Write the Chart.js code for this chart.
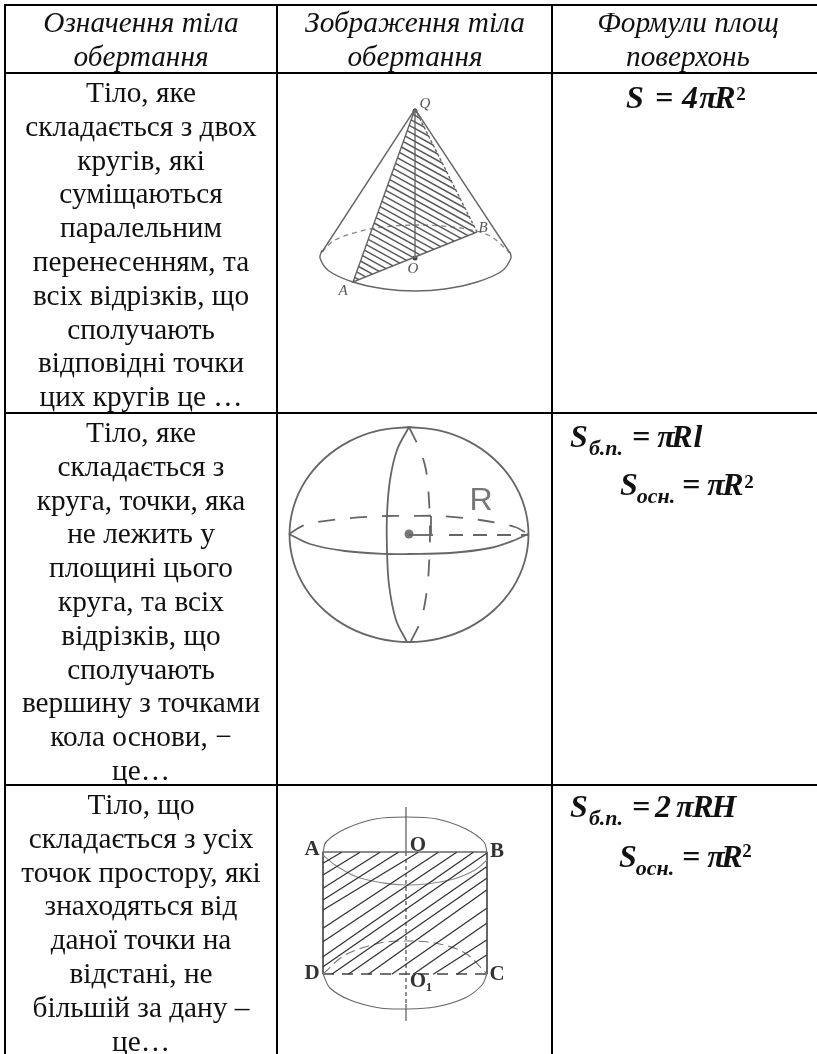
<!DOCTYPE html>
<html lang="uk">
<head>
<meta charset="utf-8">
<title>Тіла обертання</title>
<script src="https://cdn.jsdelivr.net/npm/chart.js@4"></script>
<style>
  html, body { margin: 0; padding: 0; background: #fff; overflow: hidden; }
  canvas { display: block; }
</style>
</head>
<body>
<canvas id="myTable" width="817" height="1054"></canvas>
<script>
    // Текст таблиці
    var headCol1 = ["Означення тіла", "обертання"];
    var headCol2 = ["Зображення тіла", "обертання"];
    var headCol3 = ["Формули площ", "поверхонь"];
    var row1Text = ["Тіло, яке", "складається з двох", "кругів, які", "суміщаються", "паралельним",
      "перенесенням, та", "всіх відрізків, що", "сполучають", "відповідні точки", "цих кругів це …"];
    var row2Text = ["Тіло, яке", "складається з", "круга, точки, яка", "не лежить у", "площині цього",
      "круга, та всіх", "відрізків, що", "сполучають", "вершину з точками", "кола основи, −", "це…"];
    var row3Text = ["Тіло, що", "складається з усіх", "точок простору, які", "знаходяться від",
      "даної точки на", "відстані, не", "більшій за дану –", "це…"];

    // Сітка таблиці
    var gridLines = [[5, 5, 817, 5], [5, 73, 817, 73], [5, 413, 817, 413], [5, 785, 817, 785],
      [5, 4, 5, 1054], [277, 5, 277, 1054], [552, 5, 552, 1054]];

    // Конус
    var coneSides = [[322, 252], [415, 109], [510, 253]];
    var coneFront = [[322, 250], [320, 258], [329, 271], [353, 282], [385, 289], [415, 291], [445, 289], [477, 282], [502, 271], [511, 258], [510, 252]];
    var coneBack = [[322, 252], [335, 240], [370, 229], [415, 225], [460, 228], [490, 236], [510, 253]];
    var coneSection = [[477, 232], [353, 282], [415, 109]];
    var coneSectionDash = [[415, 109], [477, 232]];
    var coneAxis = [[415, 109], [415, 258]];
    var coneDots = [[415, 111], [415, 258]];
    var coneHatch = [
      [413.1, 114.4, 419.5, 118], [411.1, 119.9, 424.1, 127], [409.2, 125.3, 428.6, 136], [407.2, 130.7, 433.1, 145],
      [405.3, 136.1, 437.7, 154], [403.3, 141.6, 442.2, 163], [401.4, 147, 446.7, 172], [399.4, 152.4, 451.2, 181],
      [397.5, 157.9, 455.8, 190], [395.5, 163.3, 460.3, 199], [393.6, 168.7, 464.8, 208], [391.6, 174.2, 469.4, 217],
      [389.7, 179.6, 473.9, 226], [387.8, 185, 474.8, 232.9], [385.8, 190.4, 468, 235.6], [383.9, 195.9, 461.2, 238.4],
      [381.9, 201.3, 454.3, 241.1], [380, 206.7, 447.5, 243.9], [378, 212.2, 440.7, 246.6], [376.1, 217.6, 433.9, 249.4],
      [374.1, 223, 427.1, 252.1], [372.2, 228.4, 420.2, 254.9], [370.2, 233.9, 413.4, 257.6], [368.3, 239.3, 406.6, 260.4],
      [366.3, 244.7, 399.8, 263.1], [364.4, 250.2, 393, 265.9], [362.5, 255.6, 386.1, 268.6], [360.5, 261, 379.3, 271.4],
      [358.6, 266.5, 372.5, 274.1], [356.6, 271.9, 365.7, 276.9], [354.7, 277.3, 358.9, 279.6]];

    // Куля
    var sphereOutline = [[409, 427], [439.9, 430.7], [468.75, 441.4], [493.5, 458.5], [512.5, 480.75], [524.4, 506.7],
      [528.5, 534.5], [524.4, 562.3], [512.5, 588.25], [493.5, 610.5], [468.75, 627.6], [439.9, 638.3], [409, 642],
      [378.1, 638.3], [349.25, 627.6], [324.5, 610.5], [305.5, 588.25], [293.6, 562.3], [289.5, 534.5], [293.6, 506.7],
      [305.5, 480.75], [324.5, 458.5], [349.25, 441.4], [378.1, 430.7], [409, 427]];
    var sphereMeridian = [[409, 427], [397, 450], [390, 480], [387, 515], [387, 550], [389, 585], [396, 620], [407, 642]];
    var sphereMeridianBack = [[409, 427], [420, 450], [426, 470], [429, 500], [430, 534], [429, 565], [427, 590], [421, 620], [411, 641]];
    var sphereEquator = [[289, 534], [310, 544], [345, 551], [387, 554], [409, 554], [450, 553], [490, 548], [515, 540], [528, 534]];
    var sphereEquatorBack = [[289, 534], [305, 525], [340, 519], [387, 516], [409, 516], [440, 516], [480, 520], [515, 527], [528, 534]];
    var sphereRadius = [[409, 535], [433, 535]];
    var sphereRadiusDash = [[449, 535], [528, 535]];
    var sphereTick = [[431, 516], [431, 534]];
    var sphereDot = [[409, 534]];

    // Циліндр
    var cylTop = [[323, 852], [326, 842], [345, 829], [375, 819], [406, 817], [437, 819], [466, 829], [484, 842], [487, 852]];
    var cylTopFront = [[323, 855], [335, 865], [360, 878], [406, 885], [450, 880], [475, 870], [487, 860]];
    var cylBottom = [[323, 974], [330, 988], [350, 1000], [380, 1008], [406, 1009], [435, 1007], [465, 998], [482, 985], [487, 974]];
    var cylBottomBack = [[323, 974], [345, 955], [380, 943], [406, 941], [435, 943], [465, 953], [487, 974]];
    var cylSides = [[323, 852], [323, 974], null, [487, 852], [487, 974]];
    var cylChord = [[323, 852], [487, 852]];
    var cylChordDash = [[323, 974], [487, 974]];
    var cylAxisSolid = [[406, 807], [406, 852], null, [406, 1004], [406, 1021]];
    var cylAxisDash = [[406, 852], [406, 1004]];
    var cylHatch = [
      [323, 863.3, 341.7, 852.3], [323, 875, 360, 852.3], [323, 888.3, 380, 852.3], [323, 900, 398.3, 852.3],
      [323, 910, 418.3, 852.3], [323, 928.3, 438.3, 852.3], [323, 941.7, 456.7, 852.3], [323, 956.7, 473.3, 852.3],
      [323, 966.7, 486.7, 853.3], [331.7, 974.3, 486.7, 866.7], [348.3, 974.3, 486.7, 878.3], [368.3, 974.3, 486.7, 890],
      [391.7, 974.3, 486.7, 908.3], [413.3, 974.3, 486.7, 923.3], [433.3, 974.3, 486.7, 940], [456.7, 974.3, 486.7, 955]];

    // Перетворення у точки Chart.js
    function toPoints(list) {
      return list.map(function (p) {
        return p ? { x: p[0], y: p[1] } : { x: NaN, y: NaN };
      });
    }
    function segments(list) {
      var out = [];
      list.forEach(function (s) {
        out.push({ x: s[0], y: s[1] }, { x: s[2], y: s[3] }, { x: NaN, y: NaN });
      });
      return out;
    }
    function line(points, color, width, dash, tension) {
      return {
        data: points,
        showLine: true,
        borderColor: color,
        borderWidth: width,
        borderDash: dash || [],
        tension: tension || 0,
        pointRadius: 0,
        fill: false
      };
    }
    function dots(points, color, radius) {
      return {
        data: points,
        showLine: false,
        pointRadius: radius,
        pointBackgroundColor: color,
        pointBorderWidth: 0
      };
    }

    var gray = '#666666';
    var curve = 0.33;
    var datasets = [
      line(segments(gridLines), '#000000', 2),
      line(segments(coneHatch), '#5a5a5a', 1.5),
      line(toPoints(coneSides), gray, 1.4),
      line(toPoints(coneFront), gray, 1.4, [], curve),
      line(toPoints(coneBack), '#888888', 1.3, [5, 4], curve),
      line(toPoints(coneSection), gray, 1.4),
      line(toPoints(coneSectionDash), gray, 1.4, [3, 2]),
      line(toPoints(coneAxis), '#888888', 1),
      dots(toPoints(coneDots), '#444444', 2.5),
      line(toPoints(sphereOutline), gray, 1.8, [], curve),
      line(toPoints(sphereMeridian), gray, 1.8, [], curve),
      line(toPoints(sphereMeridianBack), gray, 1.8, [17, 17], curve),
      line(toPoints(sphereEquator), gray, 1.8, [], curve),
      line(toPoints(sphereEquatorBack), gray, 1.8, [17, 15], curve),
      line(toPoints(sphereRadius), gray, 1.8),
      line(toPoints(sphereRadiusDash), gray, 1.8, [14, 10]),
      line(toPoints(sphereTick), gray, 1.8),
      dots(toPoints(sphereDot), '#777777', 4.5),
      line(segments(cylHatch), '#333333', 1.3),
      line(toPoints(cylTop), gray, 1.1, [], curve),
      line(toPoints(cylTopFront), '#888888', 1.1, [], curve),
      line(toPoints(cylBottom), gray, 1.1, [], curve),
      line(toPoints(cylBottomBack), '#777777', 1.1, [10, 5], curve),
      line(toPoints(cylSides), gray, 2),
      line(toPoints(cylChord), gray, 1.6),
      line(toPoints(cylChordDash), '#444444', 1.6, [11, 8]),
      line(toPoints(cylAxisSolid), gray, 1.3),
      line(toPoints(cylAxisDash), '#555555', 1.3, [4, 3])
    ];

    // Підписи та формули малюються через шкали
    var serif = '"Liberation Serif", serif';
    var sans = '"Liberation Sans", sans-serif';
    var formula = 'italic bold 32px ' + serif;
    var formulaSub = 'italic bold 22px ' + serif;
    var formulaSup = 'bold 19px ' + serif;
    var coneLabel = 'italic 15px ' + serif;
    var cylLabel = 'bold 21px ' + serif;
    var labels = [
      ['Q', 425, 108, coneLabel, '#555'], ['B', 483, 232, coneLabel, '#555'],
      ['O', 413, 273, coneLabel, '#555'], ['A', 343, 295, coneLabel, '#555'],
      ['R', 481, 510, '32px ' + sans, '#777'],
      ['A', 312, 855, cylLabel, '#333'], ['B', 497, 857, cylLabel, '#333'],
      ['O', 418, 851, cylLabel, '#333'], ['D', 312, 979, cylLabel, '#333'],
      ['C', 497, 980, cylLabel, '#333'], ['O₁', 421, 987, cylLabel, '#333'],
      ['S', 635, 108, formula], ['=', 664, 108, formula], ['4', 690, 108, formula], ['π', 708, 108, formula],
      ['R', 725, 108, formula], ['2', 741, 100, formulaSup],
      ['S', 579, 447, formula], ['б.п.', 606, 455, formulaSub], ['=', 641, 447, formula], ['π', 666, 447, formula],
      ['R', 682, 447, formula], ['l', 698, 447, formula],
      ['S', 629, 495, formula], ['осн.', 656, 503, formulaSub], ['=', 691, 495, formula], ['π', 716, 495, formula],
      ['R', 733, 495, formula], ['2', 749, 488, formulaSup],
      ['S', 579, 817, formula], ['б.п.', 606, 825, formulaSub], ['=', 641, 817, formula], ['2', 663, 817, formula],
      ['π', 685, 817, formula], ['R', 703, 817, formula], ['H', 724, 817, formula],
      ['S', 628, 867, formula], ['осн.', 655, 875, formulaSub], ['=', 691, 867, formula], ['π', 716, 867, formula],
      ['R', 732, 867, formula], ['2', 747, 857, formulaSup]
    ];

    var bodyFont = '29.3px ' + serif;
    var headFont = 'italic 29.3px ' + serif;
    var lineStep = 33.8;

    var tableText = {
      id: 'tableText',
      afterDatasetsDraw: function (chart) {
        var c = chart.ctx;
        var sx = chart.scales.x;
        var sy = chart.scales.y;
        function block(lines, cx, y0, font) {
          c.font = font;
          c.fillStyle = '#111111';
          lines.forEach(function (t, i) {
            c.fillText(t, sx.getPixelForValue(cx), sy.getPixelForValue(y0 + i * lineStep));
          });
        }
        c.save();
        c.textAlign = 'center';
        c.textBaseline = 'alphabetic';
        block(headCol1, 141, 32, headFont);
        block(headCol2, 415, 32, headFont);
        block(headCol3, 688, 32, headFont);
        block(row1Text, 141, 102, bodyFont);
        block(row2Text, 141, 442, bodyFont);
        block(row3Text, 141, 814, bodyFont);
        labels.forEach(function (l) {
          c.font = l[3];
          c.fillStyle = l[4] || '#111111';
          c.fillText(l[0], sx.getPixelForValue(l[1]), sy.getPixelForValue(l[2]));
        });
        c.restore();
      }
    };

    var ctx = document.getElementById('myTable').getContext('2d');
    var myTable = new Chart(ctx, {
      type: 'scatter',
      data: { datasets: datasets },
      plugins: [tableText],
      options: {
        responsive: false,
        animation: false,
        layout: { padding: 0, autoPadding: false },
        scales: {
          x: { type: 'linear', display: false, min: 0, max: 817 },
          y: { type: 'linear', display: false, min: 0, max: 1054, reverse: true }
        },
        plugins: {
          legend: { display: false },
          tooltip: { enabled: false }
        }
      }
    });
</script>
</body>
</html>
